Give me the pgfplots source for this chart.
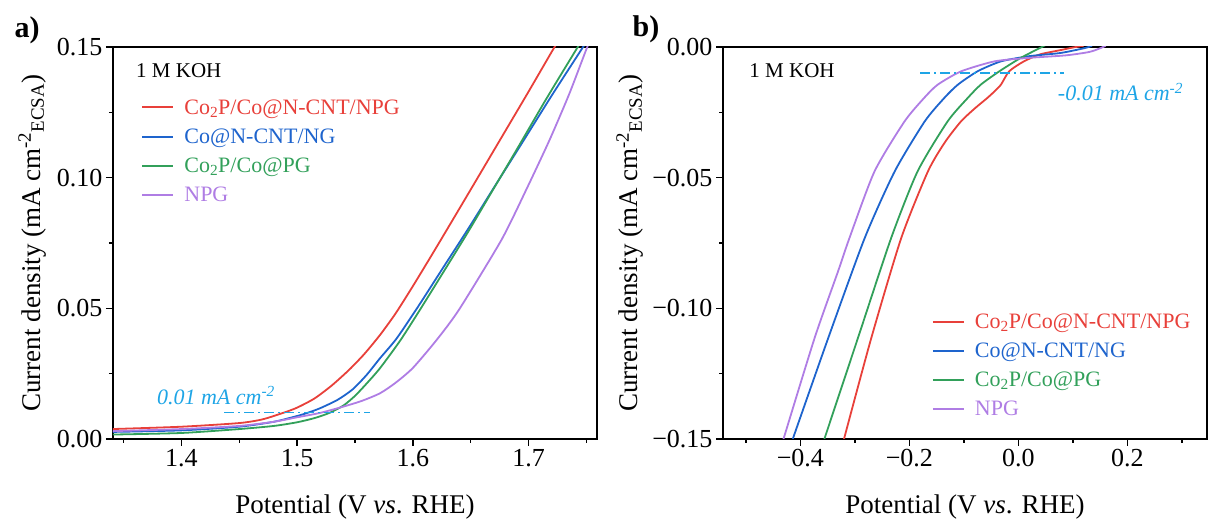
\documentclass[border=0pt]{standalone}
\usepackage{fontspec}
\setmainfont{Liberation Serif}
\usepackage{pgfplots}
\pgfplotsset{compat=1.18}
\definecolor{cred}{RGB}{232,64,58}
\definecolor{cblue}{RGB}{30,100,205}
\definecolor{cgreen}{RGB}{50,160,90}
\definecolor{cpurple}{RGB}{175,125,228}
\definecolor{ccyan}{RGB}{30,165,230}
\pgfplotsset{myaxis/.style={
  scale only axis, width=484pt, height=392pt,
  axis line style={line width=1.6pt},
  every tick/.style={black, line width=1.4pt},
  major tick length=7pt, minor tick length=4pt,
  tick align=outside, xtick pos=bottom, ytick pos=left,
  tick label style={font=\fontsize{26}{26}\selectfont},
  label style={font=\fontsize{27}{27}\selectfont},
  every axis plot/.append style={line width=1.8pt, smooth, tension=0.4},
  legend style={draw=none, fill=none, font=\fontsize{22}{22}\selectfont, row sep=9pt},
  legend cell align=left,
  legend image code/.code={\draw[#1,line width=2pt] (0pt,0pt) -- (31pt,0pt);},
}}
\newcommand{\lgap}{\hspace{8pt}}
\begin{document}
\begin{tikzpicture}
\path[use as bounding box] (-113pt,-85pt) rectangle (1095pt,439pt);
\begin{axis}[myaxis,
  at={(0pt,0pt)},
  xmin=1.341, xmax=1.759, ymin=0, ymax=0.15,
  xtick={1.4,1.5,1.6,1.7}, xticklabels={1.4,1.5,1.6,1.7},
  minor xtick={1.35,1.45,1.55,1.65,1.75},
  ytick={0,0.05,0.10,0.15}, yticklabels={0.00,0.05,0.10,0.15},
  minor ytick={0.025,0.075,0.125},
  xlabel={Potential (V \textit{vs}. RHE)},
  ylabel={Current density (mA cm\textsuperscript{-2}\textsubscript{ECSA})},
  xlabel style={at={(axis description cs:0.5,-0.173)}, anchor=center},
  ylabel style={at={(axis description cs:-0.167,0.5)}, anchor=center},
  legend style={at={(axis description cs:0.052,0.877)}, anchor=north west},
]
\addplot[cred] coordinates {(1.34,0.0038) (1.40,0.0047) (1.45,0.0061) (1.47,0.0075) (1.488,0.0100) (1.50,0.0120) (1.515,0.0155) (1.53,0.0205) (1.545,0.0265) (1.558,0.0325) (1.5716,0.0398) (1.585,0.0480) (1.60,0.0585) (1.6205,0.0735) (1.65,0.0955) (1.678,0.1165) (1.70,0.1330) (1.721,0.149) (1.73,0.1555)};
\addlegendentry{\lgap\textcolor{cred}{Co\textsubscript{2}P/Co@N-CNT/NPG}}
\addplot[cblue] coordinates {(1.34,0.0027) (1.40,0.0033) (1.45,0.0047) (1.48,0.0066) (1.50,0.0088) (1.509,0.0100) (1.52,0.0118) (1.535,0.0150) (1.548,0.0190) (1.56,0.0245) (1.5716,0.0309) (1.586,0.0385) (1.605,0.0510) (1.625,0.0648) (1.648,0.0806) (1.67,0.0962) (1.695,0.1138) (1.72,0.1315) (1.7455,0.149) (1.752,0.1535)};
\addlegendentry{\lgap\textcolor{cblue}{Co@N-CNT/NG}}
\addplot[cgreen] coordinates {(1.34,0.0017) (1.40,0.0023) (1.45,0.0038) (1.48,0.0050) (1.50,0.0064) (1.515,0.0080) (1.528,0.0100) (1.54,0.0128) (1.55,0.0165) (1.56,0.0212) (1.5716,0.0271) (1.5894,0.0379) (1.61,0.0522) (1.6457,0.0778) (1.668,0.0945) (1.690,0.1110) (1.715,0.130) (1.741,0.149) (1.748,0.154)};
\addlegendentry{\lgap\textcolor{cgreen}{Co\textsubscript{2}P/Co@PG}}
\addplot[cpurple] coordinates {(1.34,0.0030) (1.40,0.0038) (1.45,0.0050) (1.48,0.0066) (1.50,0.0083) (1.52,0.0100) (1.54,0.0124) (1.556,0.0146) (1.5716,0.0175) (1.585,0.0215) (1.60,0.0272) (1.6205,0.0379) (1.64,0.0496) (1.6765,0.0762) (1.698,0.0955) (1.718,0.1144) (1.735,0.132) (1.7497,0.149) (1.754,0.1535)};
\addlegendentry{\lgap\textcolor{cpurple}{NPG}}
\addplot[ccyan, line width=1.4pt, dash pattern=on 10pt off 4pt on 2pt off 4pt, forget plot, sharp plot] coordinates {(1.437,0.0101) (1.563,0.0101)};
\node[ccyan, font=\fontsize{22}{22}\selectfont\itshape, anchor=west] at (axis cs:1.376,0.0167) {0.01 mA cm\textsuperscript{-2}};
\node[font=\fontsize{21}{21}\selectfont, anchor=west] at (axis cs:1.358,0.141) {1 M KOH};
\end{axis}
\begin{axis}[myaxis,
  at={(610pt,0pt)},
  xmin=-0.542, xmax=0.346, ymin=-0.15, ymax=0,
  xtick={-0.4,-0.2,0,0.2}, xticklabels={−0.4,−0.2,0.0,0.2},
  minor xtick={-0.5,-0.3,-0.1,0.1,0.3},
  ytick={-0.15,-0.10,-0.05,0}, yticklabels={−0.15,−0.10,−0.05,0.00},
  minor ytick={-0.125,-0.075,-0.025},
  xlabel={Potential (V \textit{vs}. RHE)},
  ylabel={Current density (mA cm\textsuperscript{-2}\textsubscript{ECSA})},
  xlabel style={at={(axis description cs:0.5,-0.173)}, anchor=center},
  ylabel style={at={(axis description cs:-0.192,0.5)}, anchor=center},
  legend style={at={(axis description cs:0.425,0.331)}, anchor=north west},
]
\addplot[cred] coordinates {(-0.320,-0.150) (-0.270,-0.1114) (-0.215,-0.0731) (-0.166,-0.0476) (-0.135,-0.0365) (-0.1055,-0.0285) (-0.08,-0.0235) (-0.057,-0.0195) (-0.045,-0.0172) (-0.032,-0.0144) (-0.017,-0.0093) (0.010,-0.0055) (0.04,-0.0028) (0.077,-0.0012) (0.10,-0.0002) (0.12,0.0005)};
\addlegendentry{\lgap\textcolor{cred}{Co\textsubscript{2}P/Co@N-CNT/NPG}}
\addplot[cblue] coordinates {(-0.414,-0.150) (-0.349,-0.1114) (-0.282,-0.0731) (-0.227,-0.0476) (-0.172,-0.0285) (-0.136,-0.0195) (-0.111,-0.0144) (-0.075,-0.0093) (-0.032,-0.0055) (0.02,-0.0035) (0.077,-0.0023) (0.122,-0.0004) (0.135,0.0005)};
\addlegendentry{\lgap\textcolor{cblue}{Co@N-CNT/NG}}
\addplot[cgreen] coordinates {(-0.356,-0.150) (-0.2945,-0.1114) (-0.2335,-0.0731) (-0.185,-0.0476) (-0.130,-0.0285) (-0.093,-0.0195) (-0.069,-0.0144) (-0.035,-0.0093) (0.004,-0.0042) (0.043,0.0) (0.05,0.0008)};
\addlegendentry{\lgap\textcolor{cgreen}{Co\textsubscript{2}P/Co@PG}}
\addplot[cpurple] coordinates {(-0.431,-0.150) (-0.374,-0.1114) (-0.331,-0.0859) (-0.310,-0.0731) (-0.264,-0.0476) (-0.209,-0.0285) (-0.173,-0.0195) (-0.148,-0.0144) (-0.105,-0.0093) (-0.044,-0.0055) (0.0165,-0.0042) (0.087,-0.0032) (0.130,-0.0019) (0.151,-0.0004) (0.16,0.0005)};
\addlegendentry{\lgap\textcolor{cpurple}{NPG}}
\addplot[ccyan, line width=1.4pt, dash pattern=on 10pt off 4pt on 2pt off 4pt, forget plot, sharp plot] coordinates {(-0.180,-0.0099) (0.083,-0.0099)};
\node[ccyan, font=\fontsize{22}{22}\selectfont\itshape, anchor=west] at (axis cs:0.066,-0.0173) {-0.01 mA cm\textsuperscript{-2}};
\node[font=\fontsize{21}{21}\selectfont, anchor=west] at (axis cs:-0.500,-0.009) {1 M KOH};
\end{axis}
\node[font=\fontsize{30}{30}\selectfont\bfseries] at (-86pt,409pt) {a)};
\node[font=\fontsize{30}{30}\selectfont\bfseries] at (533pt,410pt) {b)};
\end{tikzpicture}
\end{document}
